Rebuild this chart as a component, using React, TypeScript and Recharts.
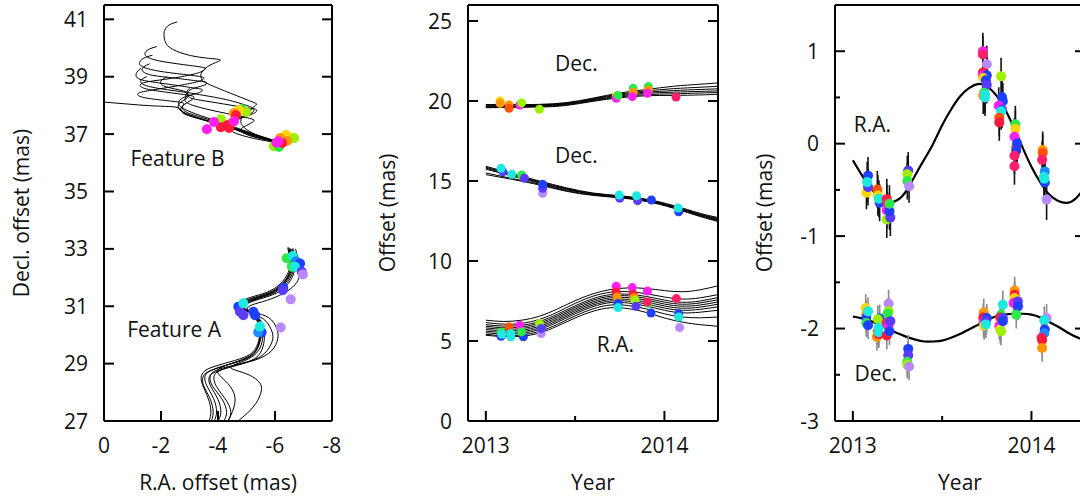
import React from "react";
import { ComposedChart, Line, Scatter, XAxis, YAxis, ErrorBar, ReferenceDot } from "recharts";

const FONT = "'Open Sans', 'Noto Sans', sans-serif";
const PALETTE = [
  "#ff1a3a", "#ff5200", "#ff9500", "#ffd400", "#9cf000", "#2ee84a", "#1de9e0",
  "#1e8cff", "#2040ff", "#5a3cff", "#b98aff", "#ff20f0", "#ff1f6a",
];

// ---- panel 1: proper-motion tracks (R.A., Dec) ----
const tracksB: number[][][] = [
  [[-2.57,40.91],[-2.28,40.8],[-2.13,40.62],[-2.11,40.39],[-2.28,40.04],[-2.87,39.78],[-3.51,39.66],[-4.04,39.6],[-3.98,39.52],[-3.63,39.35],[-3.41,39.11],[-3.45,38.88],[-3.74,38.71],[-4.45,38.42],[-5.26,38.1],[-5.32,38.01],[-5.15,37.84],[-4.91,37.66],[-4.8,37.43],[-5.03,37.14],[-5.61,36.85],[-6.08,36.68]],
  [[-1.85,40.05],[-1.6,39.97],[-1.45,39.85],[-1.5,39.7],[-1.95,39.55],[-2.8,39.42],[-3.45,39.33],[-3.55,39.27],[-3.35,39.15],[-2.6,38.98],[-1.7,38.85],[-1.3,38.75],[-1.35,38.62],[-1.9,38.5],[-2.8,38.38],[-3.15,38.3],[-3.05,38.18],[-2.8,38.02],[-2.7,37.85],[-2.95,37.68],[-3.6,37.48],[-4.4,37.24],[-5.3,36.96],[-6.2,36.7]],
  [[-1.7,39.75],[-1.4,39.65],[-1.25,39.5],[-1.35,39.35],[-1.9,39.2],[-2.8,39.08],[-3.4,39.0],[-3.5,38.93],[-3.25,38.82],[-2.5,38.67],[-1.6,38.52],[-1.2,38.42],[-1.3,38.3],[-1.9,38.2],[-2.6,38.12],[-2.8,38.05],[-2.75,37.9],[-3.0,37.72],[-3.7,37.5],[-4.5,37.24],[-5.4,36.95],[-6.3,36.67]],
  [[-1.3,39.3],[-1.15,39.15],[-1.15,38.98],[-1.5,38.85],[-2.4,38.72],[-3.2,38.6],[-3.45,38.55],[-3.35,38.45],[-3.0,38.35],[-2.7,38.22],[-2.62,38.05],[-2.8,37.88],[-3.4,37.64],[-4.2,37.38],[-5.1,37.06],[-6.1,36.74]],
  [[0.05,38.12],[-0.8,38.05],[-1.6,37.99],[-2.3,37.96],[-2.65,37.9],[-2.75,37.75],[-3.1,37.6],[-3.8,37.4],[-4.6,37.16],[-5.4,36.9],[-6.2,36.7]],
  [[-1.5,39.0],[-1.3,38.88],[-1.4,38.72],[-2.0,38.58],[-2.9,38.45],[-3.5,38.35],[-4.3,38.2],[-5.0,38.0],[-5.25,37.88],[-5.2,37.75],[-4.9,37.6],[-4.6,37.45],[-4.5,37.28],[-4.8,37.08],[-5.5,36.85],[-6.3,36.66]],
  [[-3.0,38.6],[-2.9,38.45],[-3.0,38.28],[-3.4,38.18],[-4.2,38.05],[-5.0,37.92],[-5.35,37.85],[-5.25,37.72],[-4.85,37.58],[-4.45,37.4],[-4.35,37.22],[-4.7,37.0],[-5.5,36.8],[-6.25,36.68]],
  [[-2.2,39.0],[-2.0,38.85],[-2.1,38.68],[-2.6,38.55],[-2.9,38.45],[-2.95,38.3],[-2.75,38.15],[-2.6,37.98],[-2.72,37.8],[-3.2,37.6],[-4.0,37.35],[-4.9,37.08],[-5.7,36.84],[-6.35,36.65]],
  [[-1.6,39.45],[-1.4,39.35],[-1.35,39.2],[-1.7,39.05],[-2.5,38.95],[-3.3,38.85],[-3.6,38.8],[-3.5,38.7],[-3.1,38.58],[-2.9,38.42],[-2.85,38.25],[-2.9,38.1],[-3.4,37.92],[-4.3,37.72],[-5.1,37.55],[-5.25,37.45],[-5.0,37.3],[-4.8,37.15],[-5.1,36.95],[-5.8,36.78],[-6.15,36.72]],
];

const tracksA: number[][][] = [
  [[-6.53,33.02],[-6.59,32.44],[-6.53,32.15],[-6.35,31.85],[-5.94,31.51],[-5.36,31.3],[-4.95,31.14],[-4.83,30.98],[-5.06,30.83],[-5.36,30.63],[-5.5,30.23],[-5.5,29.88],[-5.36,29.47],[-5.01,29.18],[-4.31,28.95],[-3.72,28.74],[-3.54,28.54],[-3.6,28.25],[-3.84,27.79],[-3.95,27.32],[-3.86,27.0],[-3.7,26.8]],
  [[-6.45,33.05],[-6.52,32.46],[-6.46,32.17],[-6.28,31.88],[-5.86,31.55],[-5.28,31.35],[-4.87,31.2],[-4.74,31.03],[-4.97,30.87],[-5.28,30.66],[-5.43,30.27],[-5.45,29.9],[-5.3,29.5],[-4.92,29.22],[-4.2,29.0],[-3.62,28.8],[-3.42,28.58],[-3.45,28.28],[-3.65,27.8],[-3.75,27.35],[-3.68,27.0],[-3.5,26.8]],
  [[-6.6,33.0],[-6.66,32.42],[-6.6,32.12],[-6.42,31.82],[-6.0,31.48],[-5.42,31.27],[-5.02,31.1],[-4.9,30.94],[-5.14,30.78],[-5.45,30.57],[-5.6,30.17],[-5.62,29.8],[-5.5,29.4],[-5.15,29.1],[-4.45,28.88],[-3.85,28.68],[-3.68,28.48],[-3.75,28.2],[-4.0,27.75],[-4.1,27.3],[-4.0,27.0],[-3.85,26.8]],
  [[-6.56,33.0],[-6.62,32.43],[-6.56,32.13],[-6.38,31.84],[-5.97,31.5],[-5.39,31.28],[-4.98,31.12],[-4.86,30.96],[-5.1,30.8],[-5.4,30.6],[-5.55,30.2],[-5.56,29.84],[-5.42,29.45],[-5.06,29.16],[-4.62,28.98],[-4.45,28.86],[-4.62,28.77],[-5.1,28.6],[-5.45,28.35],[-5.52,28.05],[-5.32,27.6],[-4.95,27.2],[-4.7,27.0],[-4.55,26.85]],
  [[-6.5,33.0],[-6.56,32.45],[-6.5,32.16],[-6.32,31.86],[-5.9,31.53],[-5.32,31.32],[-4.91,31.17],[-4.79,31.0],[-5.02,30.85],[-5.33,30.64],[-5.47,30.25],[-5.48,29.89],[-5.34,29.48],[-4.98,29.2],[-4.38,28.97],[-4.02,28.8],[-4.05,28.6],[-4.35,28.3],[-4.58,27.9],[-4.55,27.45],[-4.35,27.0],[-4.2,26.8]],
  [[-6.63,33.02],[-6.7,32.44],[-6.65,32.12],[-6.47,31.8],[-6.05,31.46],[-5.46,31.25],[-5.05,31.1],[-4.92,30.95],[-5.25,30.8],[-5.78,30.6],[-6.05,30.25],[-6.1,29.88],[-5.88,29.45],[-5.32,29.13],[-4.52,28.93],[-3.92,28.76],[-3.72,28.54],[-3.82,28.2],[-4.15,27.75],[-4.3,27.3],[-4.2,27.0],[-4.05,26.8]],
  [[-6.72,33.0],[-6.86,32.42],[-6.86,32.05],[-6.7,31.75],[-6.3,31.45],[-5.7,31.2],[-5.2,31.05],[-5.02,30.9],[-5.2,30.74],[-5.6,30.55],[-5.86,30.2],[-5.92,29.85],[-5.72,29.45],[-5.3,29.15],[-4.6,28.95],[-4.05,28.75],[-3.86,28.55],[-3.95,28.2],[-4.3,27.7],[-4.45,27.3],[-4.35,27.0],[-4.2,26.8]],
  [[-6.48,33.05],[-6.55,32.45],[-6.5,32.14],[-6.33,31.84],[-5.92,31.5],[-5.34,31.29],[-4.93,31.13],[-4.8,30.97],[-5.03,30.82],[-5.33,30.62],[-5.46,30.22],[-5.46,29.86],[-5.33,29.46],[-4.98,29.17],[-4.27,28.94],[-3.66,28.72],[-3.47,28.52],[-3.5,28.22],[-3.72,27.78],[-3.83,27.32],[-3.76,27.0],[-3.6,26.8]],
];

// spots: [R.A., Dec, colour index]
const spotsB = [
  [-5.96,36.58,4],[-6.14,36.55,5],[-6.39,36.97,3],[-6.56,36.86,3],[-6.67,36.86,4],[-6.42,36.76,2],[-6.18,36.86,2],[-6.25,36.69,0],[-6.12,36.75,11],[-6.05,36.7,11],
  [-4.84,37.87,5],[-4.98,37.77,4],[-4.74,37.84,3],[-4.56,37.73,2],[-4.63,37.66,0],[-4.1,37.52,4],[-4.46,37.38,2],[-4.32,37.31,0],[-4.39,37.21,0],[-4.1,37.24,0],[-4.56,37.45,11],[-3.86,37.42,11],[-3.61,37.17,11],
];
const spotsA = [
  [-6.41,32.67,5],[-6.62,32.75,6],[-6.74,32.57,7],[-6.88,32.49,8],[-6.59,32.38,5],[-6.7,32.38,6],[-6.94,32.2,9],[-6.98,32.11,10],[-6.29,31.64,8],[-6.27,31.56,9],[-6.55,31.24,10],
  [-4.71,30.98,8],[-4.77,30.81,9],[-4.89,30.69,9],[-4.89,31.1,6],[-5.24,30.81,8],[-5.3,30.69,8],[-5.53,30.09,8],[-5.41,30.09,7],[-5.47,30.29,6],[-6.2,30.26,10],
];

// ---- panel 2: offsets vs time ----
const decYears = [2013.0, 2013.15, 2013.3, 2013.45, 2013.6, 2013.75, 2013.9, 2014.05, 2014.2, 2014.3];
const decUpperFits = [
  [19.58,19.6,19.62,19.72,19.98,20.2,20.33,20.35,20.38,20.42],
  [19.62,19.64,19.66,19.76,20.02,20.26,20.4,20.45,20.5,20.53],
  [19.66,19.68,19.7,19.8,20.06,20.32,20.48,20.55,20.6,20.63],
  [19.7,19.71,19.73,19.83,20.1,20.38,20.55,20.65,20.72,20.76],
  [19.74,19.74,19.76,19.86,20.14,20.44,20.63,20.77,20.86,20.92],
  [19.78,19.77,19.79,19.9,20.18,20.5,20.72,20.92,21.05,21.13],
];
const decMidFits = [
  [15.92,15.45,15.0,14.58,14.25,14.08,13.86,13.47,12.98,12.72],
  [15.86,15.4,14.95,14.53,14.22,14.05,13.83,13.43,12.93,12.66],
  [15.8,15.35,14.9,14.5,14.2,14.03,13.8,13.4,12.9,12.62],
  [15.74,15.3,14.86,14.46,14.17,14.0,13.78,13.37,12.86,12.57],
  [15.5,15.15,14.8,14.4,14.13,13.97,13.75,13.33,12.82,12.52],
  [15.4,15.1,14.75,14.36,14.1,13.95,13.72,13.3,12.78,12.47],
];
const raYears = [2013.0, 2013.1, 2013.2, 2013.3, 2013.4, 2013.5, 2013.6, 2013.7, 2013.8, 2013.9, 2014.0, 2014.1, 2014.2, 2014.3];
const raFits = [
  [6.3,6.22,6.3,6.55,7.0,7.52,7.95,8.22,8.32,8.28,8.15,8.08,8.2,8.45],
  [6.15,6.05,6.1,6.35,6.8,7.35,7.8,8.05,8.08,7.95,7.75,7.62,7.7,7.9],
  [6.02,5.93,5.98,6.22,6.67,7.2,7.65,7.9,7.92,7.78,7.56,7.42,7.5,7.72],
  [5.92,5.83,5.88,6.12,6.57,7.1,7.55,7.8,7.82,7.66,7.43,7.3,7.38,7.58],
  [5.82,5.73,5.78,6.02,6.47,7.0,7.45,7.7,7.71,7.55,7.31,7.18,7.25,7.44],
  [5.72,5.63,5.68,5.92,6.37,6.9,7.35,7.6,7.6,7.43,7.19,7.05,7.12,7.3],
  [5.62,5.53,5.58,5.82,6.27,6.8,7.25,7.5,7.49,7.31,7.06,6.92,6.98,7.14],
  [5.52,5.43,5.48,5.72,6.17,6.7,7.15,7.4,7.37,7.18,6.92,6.76,6.8,6.92],
  [5.42,5.33,5.38,5.6,6.04,6.57,7.01,7.25,7.21,7.0,6.7,6.5,6.45,6.5],
  [5.36,5.27,5.3,5.5,5.93,6.44,6.86,7.08,7.02,6.78,6.44,6.18,6.02,5.92],
];
// [year, offset, colour index]
const decUpperPts = [
  [2013.08,20.0,3],[2013.08,19.85,2],[2013.13,19.75,2],[2013.13,19.55,1],[2013.19,19.75,11],[2013.2,19.88,4],[2013.3,19.48,4],
  [2013.73,20.31,3],[2013.73,20.17,11],[2013.74,20.35,5],[2013.825,20.79,5],[2013.825,20.55,2],[2013.82,20.27,11],
  [2013.91,20.9,5],[2013.91,20.69,2],[2013.905,20.48,11],[2014.065,20.25,12],
];
const decMidPts = [
  [2013.095,15.58,9],[2013.085,15.79,6],[2013.145,15.42,6],[2013.2,15.375,5],[2013.216,15.17,9],
  [2013.318,14.23,10],[2013.318,14.54,9],[2013.318,14.79,8],[2013.75,13.92,9],[2013.747,14.12,6],
  [2013.85,13.77,9],[2013.844,14.08,6],[2013.927,13.81,8],[2014.08,13.08,8],[2014.077,13.31,6],
];
const raPts = [
  [2013.085,5.3,8],[2013.085,5.57,5],[2013.09,5.42,6],[2013.13,5.88,1],[2013.14,5.26,6],[2013.14,5.47,6],
  [2013.19,5.98,11],[2013.21,5.26,8],[2013.2,5.57,5],[2013.3,6.09,4],[2013.31,5.47,10],[2013.31,5.78,9],
  [2013.73,8.42,11],[2013.73,8.06,0],[2013.735,7.75,2],[2013.74,7.34,8],[2013.74,7.09,6],
  [2013.82,8.34,11],[2013.825,7.92,0],[2013.83,7.7,2],[2013.835,7.55,4],[2013.84,7.17,9],
  [2013.905,8.12,11],[2013.91,7.35,5],[2013.905,7.44,12],[2013.925,6.75,8],
  [2014.067,7.65,12],[2014.08,6.71,8],[2014.08,6.5,6],[2014.085,5.84,10],
];

// ---- panel 3: parallax residuals ----
const fitYears = [2013.0,2013.05,2013.1,2013.15,2013.2,2013.25,2013.3,2013.35,2013.4,2013.45,2013.5,2013.55,2013.6,2013.65,2013.7,2013.75,2013.8,2013.85,2013.9,2013.95,2014.0,2014.05,2014.1,2014.15,2014.2,2014.25,2014.3];
const raParallax = [-0.18,-0.34,-0.48,-0.58,-0.63,-0.61,-0.51,-0.34,-0.17,0.0,0.2,0.37,0.51,0.6,0.645,0.62,0.53,0.38,0.18,-0.04,-0.25,-0.42,-0.55,-0.62,-0.64,-0.59,-0.47];
const decParallax = [-1.87,-1.89,-1.92,-1.96,-2.01,-2.05,-2.09,-2.12,-2.14,-2.14,-2.13,-2.1,-2.06,-2.01,-1.96,-1.91,-1.87,-1.85,-1.84,-1.84,-1.85,-1.88,-1.93,-1.98,-2.04,-2.09,-2.13];
// [year, offset, error, colour index]
const raObs = [
  [2013.076,-0.53,0.18,3],[2013.085,-0.47,0.2,9],[2013.085,-0.344,0.2,8],[2013.08,-0.416,0.22,6],
  [2013.137,-0.495,0.2,1],[2013.14,-0.56,0.22,3],[2013.15,-0.64,0.2,8],[2013.146,-0.595,0.2,6],
  [2013.19,-0.6,0.22,0],[2013.19,-0.64,0.2,12],[2013.19,-0.72,0.2,11],[2013.19,-0.82,0.2,4],[2013.21,-0.8,0.2,9],[2013.205,-0.73,0.2,8],[2013.205,-0.65,0.2,5],
  [2013.31,-0.29,0.2,9],[2013.305,-0.33,0.2,4],[2013.305,-0.405,0.2,5],[2013.315,-0.46,0.18,10],
  [2013.728,1.0,0.2,11],[2013.728,0.965,0.2,12],[2013.75,0.86,0.2,10],[2013.728,0.77,0.22,0],[2013.728,0.74,0.2,11],[2013.75,0.74,0.2,8],[2013.73,0.71,0.2,3],[2013.745,0.685,0.2,8],[2013.75,0.635,0.2,9],[2013.735,0.55,0.2,5],[2013.73,0.52,0.2,2],[2013.74,0.5,0.2,6],[2013.74,0.53,0.2,6],
  [2013.83,0.73,0.2,4],[2013.835,0.505,0.2,8],[2013.84,0.46,0.2,8],[2013.817,0.41,0.2,11],[2013.835,0.37,0.2,9],[2013.83,0.35,0.2,6],[2013.82,0.28,0.2,1],[2013.82,0.23,0.2,0],
  [2013.91,0.21,0.2,5],[2013.91,0.16,0.2,3],[2013.905,0.075,0.2,11],[2013.915,-0.04,0.2,1],[2013.92,0.003,0.2,8],[2013.915,-0.075,0.2,8],[2013.905,-0.13,0.2,12],[2013.905,-0.244,0.2,12],
  [2014.063,-0.068,0.2,2],[2014.063,-0.1,0.2,1],[2014.06,-0.175,0.2,12],[2014.075,-0.3,0.2,7],[2014.075,-0.42,0.2,8],[2014.07,-0.36,0.2,6],[2014.072,-0.38,0.2,6],[2014.085,-0.605,0.22,10],
];
const decObs = [
  [2013.072,-1.778,0.15,3],[2013.075,-1.85,0.15,2],[2013.075,-1.885,0.15,8],[2013.075,-1.94,0.15,5],[2013.085,-1.964,0.15,8],[2013.085,-1.814,0.15,6],
  [2013.15,-1.89,0.15,8],[2013.14,-1.9,0.15,4],[2013.14,-2.03,0.15,1],[2013.135,-2.09,0.15,2],[2013.145,-2.06,0.15,0],[2013.145,-2.04,0.15,6],[2013.145,-1.99,0.15,6],
  [2013.2,-1.73,0.15,10],[2013.2,-1.814,0.15,4],[2013.195,-1.84,0.15,5],[2013.19,-1.94,0.15,12],[2013.2,-1.97,0.15,11],[2013.19,-2.075,0.15,0],[2013.21,-1.92,0.15,9],[2013.205,-2.03,0.15,8],
  [2013.31,-2.22,0.15,8],[2013.31,-2.29,0.15,9],[2013.305,-2.36,0.15,5],[2013.305,-2.39,0.15,4],[2013.315,-2.41,0.15,10],
  [2013.733,-1.825,0.15,2],[2013.73,-1.88,0.15,0],[2013.732,-1.94,0.15,11],[2013.75,-1.885,0.15,8],[2013.745,-1.92,0.15,9],[2013.735,-1.97,0.15,3],[2013.745,-1.955,0.15,6],
  [2013.84,-1.742,0.15,6],[2013.83,-1.85,0.15,5],[2013.825,-1.88,0.15,0],[2013.82,-1.97,0.15,11],[2013.825,-2.01,0.15,3],[2013.83,-2.03,0.15,4],[2013.84,-1.885,0.15,9],[2013.84,-1.92,0.15,8],
  [2013.906,-1.588,0.15,2],[2013.906,-1.635,0.15,0],[2013.905,-1.67,0.15,3],[2013.9,-1.724,0.15,11],[2013.924,-1.706,0.15,9],[2013.925,-1.76,0.15,8],[2013.915,-1.85,0.15,5],
  [2014.085,-1.885,0.15,10],[2014.072,-1.91,0.15,6],[2014.075,-2.01,0.15,8],[2014.072,-2.05,0.15,7],[2014.057,-2.1,0.15,12],[2014.06,-2.125,0.15,0],[2014.06,-2.21,0.15,2],
];

const yearTicks = [2013, 2013.5, 2014];

const xy = (pts: number[][]) => pts.map(([x, y, c]) => ({ x, y, c }));
const series = (xs: number[], ys: number[]) => xs.map((x, i) => ({ x, y: ys[i] }));
const obs = (pts: number[][]) => pts.map(([x, y, e, c]) => ({ x, y, e, c }));

type Side = "left" | "right" | "top" | "bottom";

function tickFor(side: Side, gap: number, isMajor: (v: number) => boolean, showText: boolean) {
  return (p: any) => {
    const v = Number(p.payload.value);
    const major = isMajor(v);
    const len = major ? 10 : 5;
    const { x, y } = p;
    let c: number[];
    if (side === "left") c = [x + gap, y, x + gap + len, y];
    else if (side === "right") c = [x, y, x - len, y];
    else if (side === "top") c = [x, y, x, y + len];
    else c = [x, y - gap, x, y - gap - len];
    let text = null;
    if (showText && major) {
      text =
        side === "left" ? (
          <text x={x} y={y} dy="0.36em" textAnchor="end" fontSize={21} fontFamily={FONT} fill="#111">{v}</text>
        ) : (
          <text x={x} y={y} dy="0.72em" textAnchor="middle" fontSize={21} fontFamily={FONT} fill="#111">{v}</text>
        );
    }
    return (
      <g>
        <line x1={c[0]} y1={c[1]} x2={c[2]} y2={c[3]} stroke="#000" strokeWidth={2} />
        {text}
      </g>
    );
  };
}

const axisLine = { stroke: "#000", strokeWidth: 2 };

// box frame: labelled bottom/left axes, plain top/right axes (1px wide so they still render)
function frame(o: {
  xDomain: [number, number];
  yDomain: [number, number];
  xTicks: number[];
  yTicks: number[];
  xMajor: (v: number) => boolean;
  yMajor: (v: number) => boolean;
  yWidth: number;
  reversed?: boolean;
  xLabel: string;
  yLabel: string;
  yLabelOffset: number;
}) {
  const lab = { fontSize: 21, fontFamily: FONT, fill: "#111" };
  return [
    <XAxis key="xb" type="number" dataKey="x" domain={o.xDomain} allowDataOverflow reversed={o.reversed}
      ticks={o.xTicks} interval={0} height={76} tickSize={0} tickMargin={17} tickLine={false} axisLine={axisLine}
      tick={tickFor("bottom", 17, o.xMajor, true)}
      label={{ value: o.xLabel, position: "insideBottom", offset: 7, ...lab }} />,
    <XAxis key="xt" xAxisId="top" orientation="top" type="number" domain={o.xDomain} allowDataOverflow reversed={o.reversed}
      ticks={o.xTicks} interval={0} height={1} tickSize={0} tickMargin={0} tickLine={false} axisLine={axisLine}
      tick={tickFor("top", 0, o.xMajor, false)} />,
    <YAxis key="yl" type="number" dataKey="y" domain={o.yDomain} allowDataOverflow ticks={o.yTicks} interval={0}
      width={o.yWidth} tickSize={0} tickMargin={16} tickLine={false} axisLine={axisLine}
      tick={tickFor("left", 16, o.yMajor, true)}
      label={{ value: o.yLabel, angle: -90, position: "insideLeft", offset: o.yLabelOffset, style: { textAnchor: "middle" }, ...lab }} />,
    <YAxis key="yr" yAxisId="right" orientation="right" type="number" domain={o.yDomain} allowDataOverflow ticks={o.yTicks}
      interval={0} width={1} tickSize={0} tickMargin={0} tickLine={false} axisLine={axisLine}
      tick={tickFor("right", 0, o.yMajor, false)} />,
  ];
}

const dot = (r: number) => (p: any) => <circle cx={p.cx} cy={p.cy} r={r} fill={PALETTE[p.payload.c]} />;

const textLabel = (value: string) => ({ value, position: "center" as const, fontSize: 21, fontFamily: FONT, fill: "#111" });

function fitLine(key: string, data: { x: number; y: number }[], width = 1) {
  return (
    <Line key={key} data={data} dataKey="y" type="natural" stroke="#000" strokeWidth={width}
      dot={false} activeDot={false} isAnimationActive={false} />
  );
}

const always = () => true;
const notHalfYear = (v: number) => Math.abs(v - 2013.5) > 1e-6;
const isInt = (v: number) => Math.abs(v - Math.round(v)) < 1e-6;

function TrackPanel() {
  return (
    <ComposedChart width={345} height={497} margin={{ top: 4, right: 12, bottom: 0, left: 0 }}>
      {frame({
        xDomain: [-8, 0], yDomain: [27, 41.5], xTicks: [0, -2, -4, -6, -8], yTicks: [27, 29, 31, 33, 35, 37, 39, 41],
        xMajor: always, yMajor: always, yWidth: 104, reversed: true,
        xLabel: "R.A. offset (mas)", yLabel: "Decl. offset (mas)", yLabelOffset: 22,
      })}
      {tracksB.map((t, i) => fitLine("b" + i, xy(t)))}
      {tracksA.map((t, i) => fitLine("a" + i, xy(t)))}
      <Scatter data={xy(spotsB)} shape={dot(5)} isAnimationActive={false} />
      <Scatter data={xy(spotsA)} shape={dot(5)} isAnimationActive={false} />
      <ReferenceDot x={-2.58} y={36.16} r={1} fill="none" stroke="none" label={textLabel("Feature B")} />
      <ReferenceDot x={-2.46} y={30.2} r={1} fill="none" stroke="none" label={textLabel("Feature A")} />
    </ComposedChart>
  );
}

function OffsetPanel() {
  return (
    <ComposedChart width={380} height={497} margin={{ top: 4, right: 11, bottom: 0, left: 0 }}>
      {frame({
        xDomain: [2012.9, 2014.3], yDomain: [0, 26], xTicks: yearTicks, yTicks: [0, 5, 10, 15, 20, 25],
        xMajor: notHalfYear, yMajor: always, yWidth: 118,
        xLabel: "Year", yLabel: "Offset (mas)", yLabelOffset: 38,
      })}
      {decUpperFits.map((v, i) => fitLine("du" + i, series(decYears, v)))}
      {decMidFits.map((v, i) => fitLine("dm" + i, series(decYears, v)))}
      {raFits.map((v, i) => fitLine("ra" + i, series(raYears, v)))}
      <Scatter data={xy(decUpperPts)} shape={dot(4.5)} isAnimationActive={false} />
      <Scatter data={xy(decMidPts)} shape={dot(4.5)} isAnimationActive={false} />
      <Scatter data={xy(raPts)} shape={dot(4.5)} isAnimationActive={false} />
      <ReferenceDot x={2013.507} y={22.32} r={1} fill="none" stroke="none" label={textLabel("Dec.")} />
      <ReferenceDot x={2013.507} y={16.58} r={1} fill="none" stroke="none" label={textLabel("Dec.")} />
      <ReferenceDot x={2013.725} y={4.77} r={1} fill="none" stroke="none" label={textLabel("R.A.")} />
    </ComposedChart>
  );
}

function ParallaxPanel() {
  return (
    <ComposedChart width={370} height={497} margin={{ top: 4, right: 14, bottom: 0, left: 0 }}>
      {frame({
        xDomain: [2012.9, 2014.3], yDomain: [-3, 1.5], xTicks: yearTicks, yTicks: [-3, -2.5, -2, -1.5, -1, -0.5, 0, 0.5, 1],
        xMajor: notHalfYear, yMajor: isInt, yWidth: 105,
        xLabel: "Year", yLabel: "Offset (mas)", yLabelOffset: 35,
      })}
      {fitLine("rap", series(fitYears, raParallax), 2.2)}
      {fitLine("decp", series(fitYears, decParallax), 2.2)}
      <Scatter data={obs(raObs)} shape={dot(5)} isAnimationActive={false}>
        <ErrorBar dataKey="e" direction="y" width={0} stroke="#111" strokeWidth={1.6} />
      </Scatter>
      <Scatter data={obs(decObs)} shape={dot(5)} isAnimationActive={false}>
        <ErrorBar dataKey="e" direction="y" width={0} stroke="#8a8a8a" strokeWidth={1.6} />
      </Scatter>
      <ReferenceDot x={2013.11} y={0.205} r={1} fill="none" stroke="none" label={textLabel("R.A.")} />
      <ReferenceDot x={2013.128} y={-2.485} r={1} fill="none" stroke="none" label={textLabel("Dec.")} />
    </ComposedChart>
  );
}

export default function App() {
  return (
    <div style={{ position: "absolute", left: 0, top: 0, width: 1080, height: 497, overflow: "hidden", background: "#fff", fontFamily: FONT }}>
      <div style={{ position: "absolute", left: 0, top: 0 }}><TrackPanel /></div>
      <div style={{ position: "absolute", left: 350, top: 0 }}><OffsetPanel /></div>
      <div style={{ position: "absolute", left: 730, top: 0 }}><ParallaxPanel /></div>
    </div>
  );
}
